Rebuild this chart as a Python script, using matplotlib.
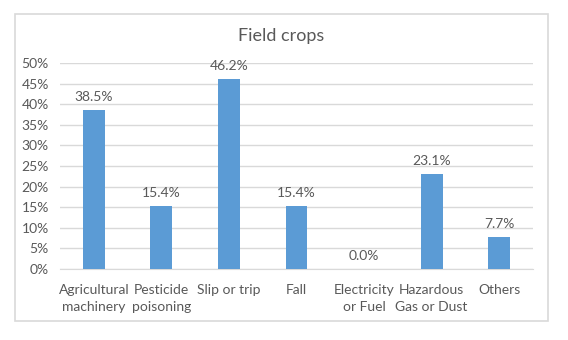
import matplotlib.pyplot as plt
from matplotlib.patches import Rectangle
from matplotlib.ticker import PercentFormatter

categories = ["Agricultural\nmachinery", "Pesticide\npoisoning", "Slip or trip", "Fall",
              "Electricity\nor Fuel", "Hazardous\nGas or Dust", "Others"]
values = [38.5, 15.4, 46.2, 15.4, 0.0, 23.1, 7.7]
yticks = [0, 5, 10, 15, 20, 25, 30, 35, 40, 45, 50]

text_color = "#595959"
bar_color = "#5B9BD5"
grid_color = "#D9D9D9"

plt.rcParams['font.family'] = ['Lato', 'DejaVu Sans']

fig = plt.figure(figsize=(5.68, 3.40), dpi=100)
# chart frame like the Excel chart area, kept behind the axes
fig.patches.append(Rectangle((15 / 568, 1 - 321 / 340), 533 / 568, 307 / 340,
                             transform=fig.transFigure, facecolor="white",
                             edgecolor=grid_color, linewidth=1.2, zorder=-1))

ax = fig.add_axes([60 / 568, 1 - 269 / 340, 473 / 568, 206 / 340])
ax.set_facecolor("none")

x = range(len(categories))
bars = ax.bar(x, values, width=0.325, color=bar_color, zorder=3)
for b, v in zip(bars, values):
    ax.annotate(f"{v:.1f}%", (b.get_x() + b.get_width() / 2, v),
                xytext=(0, 5), textcoords="offset points",
                ha="center", va="bottom", fontsize=10, color=text_color)

ax.set_xlim(-0.5, len(categories) - 0.5)
ax.set_ylim(0, 50)
ax.set_yticks(yticks)
ax.yaxis.set_major_formatter(PercentFormatter(decimals=0))
ax.grid(axis="y", color=grid_color, linewidth=1, zorder=0)

ax.set_xticks(list(x))
ax.set_xticklabels(categories, fontsize=10, color=text_color, linespacing=1.45,
                   va="top")
ax.tick_params(axis="y", labelsize=10, labelcolor=text_color, length=0, pad=8)
ax.tick_params(axis="x", length=0, pad=11)

for side in ["top", "right", "left"]:
    ax.spines[side].set_visible(False)
ax.spines["bottom"].set_color(grid_color)

fig.text(0.5 * (15 + 548) / 568, 1 - 36 / 340, "Field crops", ha="center", va="center",
         fontsize=13, color=text_color)

fig.savefig("out.png", dpi=100)
